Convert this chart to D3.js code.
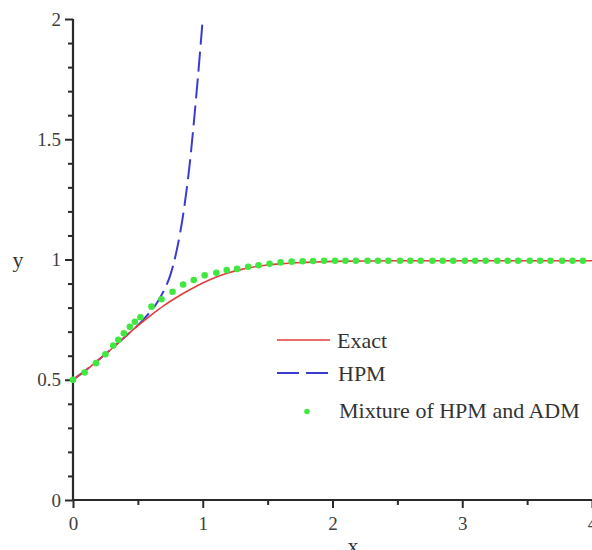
<!DOCTYPE html>
<html>
<head>
<meta charset="utf-8">
<script src="https://cdn.jsdelivr.net/npm/d3@7"></script>
<style>
  body { margin: 0; background: #fff; }
  svg { display: block; }
  .tick text { font-family: "Liberation Serif", "DejaVu Serif", serif; }
</style>
</head>
<body>
<div id="chart"></div>
<script>
// values
const exactX = [0, 0.1, 0.2, 0.3, 0.4, 0.5, 0.6, 0.7, 0.8, 0.9, 1.0, 1.1, 1.2, 1.3, 1.4, 1.5, 1.6, 1.8, 2.0, 2.5, 3.0, 3.5, 4.0];
const exactY = [0.5, 0.54, 0.584, 0.63, 0.678, 0.725, 0.768, 0.808, 0.843, 0.874, 0.902, 0.926, 0.945, 0.959, 0.970, 0.977, 0.982, 0.988, 0.992, 0.995, 0.995, 0.995, 0.995];

const hpmX = [0, 0.1, 0.2, 0.3, 0.4, 0.5, 0.55, 0.6, 0.65, 0.7, 0.75, 0.8, 0.85, 0.9, 0.95, 1.0];
const hpmY = [0.5, 0.54, 0.584, 0.63, 0.678, 0.726, 0.755, 0.785, 0.822, 0.87, 0.935, 1.04, 1.19, 1.40, 1.68, 2.0];

const mixX = [0, 0.09, 0.177, 0.25, 0.31, 0.349, 0.392, 0.438, 0.477, 0.52, 0.605, 0.682, 0.767, 0.849, 0.931,
  1.015, 1.105, 1.185, 1.265, 1.35, 1.43, 1.515, 1.60, 1.685, 1.77, 1.85, 1.935, 2.02, 2.10, 2.18, 2.27, 2.35,
  2.43, 2.52, 2.60, 2.68, 2.77, 2.85, 2.93, 3.02, 3.10, 3.18, 3.27, 3.35, 3.43, 3.52, 3.60, 3.68, 3.77, 3.85, 3.93];
const mixY = [0.5, 0.53, 0.569, 0.606, 0.642, 0.666, 0.693, 0.72, 0.741, 0.76, 0.804, 0.835, 0.866, 0.896, 0.915,
  0.934, 0.945, 0.956, 0.961, 0.970, 0.976, 0.982, 0.988, 0.991, 0.993, 0.994, 0.995, 0.995, 0.995, 0.995, 0.995, 0.995,
  0.995, 0.995, 0.995, 0.995, 0.995, 0.995, 0.995, 0.995, 0.995, 0.995, 0.995, 0.995, 0.995, 0.995, 0.995, 0.995, 0.995, 0.995, 0.995];

const xMajor = [0, 1, 2, 3, 4];
const xMinor = [0.5, 1.5, 2.5, 3.5];
const yMajor = [0, 0.5, 1, 1.5, 2];
const yMinor = [0.1, 0.2, 0.3, 0.4, 0.6, 0.7, 0.8, 0.9, 1.1, 1.2, 1.3, 1.4, 1.6, 1.7, 1.8, 1.9];

const legendLabels = ["Exact", "HPM", "Mixture of HPM and ADM"];

const width = 592, height = 550;
const red = "#e33b3f", blue = "#3b3bd2", green = "#3fe83f";
const serif = '"Liberation Serif", "DejaVu Serif", serif';

const svg = d3.select("#chart").append("svg")
    .attr("width", width)
    .attr("height", height);

const x = d3.scaleLinear().domain([0, 4]).range([73, 592]);
const y = d3.scaleLinear().domain([0, 2]).range([500, 19]);

// axes
function styleAxis(g) {
    g.select(".domain").remove();
    g.selectAll(".tick line").attr("stroke", "#2a2a2a").attr("stroke-width", 2);
    g.selectAll(".tick text").attr("fill", "#404040").attr("font-size", 19);
}

svg.append("g")
    .attr("transform", `translate(${x(0)},0)`)
    .call(d3.axisLeft(y).tickValues(yMinor).tickSize(5).tickFormat(""))
    .call(styleAxis);
svg.append("g")
    .attr("transform", `translate(${x(0)},0)`)
    .call(d3.axisLeft(y).tickValues(yMajor).tickSize(8).tickPadding(4).tickFormat(d => d))
    .call(styleAxis);

svg.append("g")
    .attr("transform", `translate(0,${y(0)})`)
    .call(d3.axisBottom(x).tickValues(xMinor).tickSize(5).tickFormat(""))
    .call(styleAxis);
svg.append("g")
    .attr("transform", `translate(0,${y(0)})`)
    .call(d3.axisBottom(x).tickValues(xMajor).tickSize(8).tickPadding(9).tickFormat(d => d))
    .call(styleAxis);

svg.append("line")
    .attr("x1", x(0)).attr("x2", x(0))
    .attr("y1", y(0) + 1).attr("y2", y(2))
    .attr("stroke", "#2a2a2a").attr("stroke-width", 2.2);
svg.append("line")
    .attr("x1", x(0) - 1).attr("x2", width)
    .attr("y1", y(0)).attr("y2", y(0))
    .attr("stroke", "#2a2a2a").attr("stroke-width", 2.2);

// axis titles
svg.append("text")
    .attr("x", 18).attr("y", 267)
    .attr("text-anchor", "middle")
    .attr("font-family", serif).attr("font-size", 22).attr("fill", "#333")
    .text("y");
svg.append("text")
    .attr("x", 353).attr("y", 553)
    .attr("text-anchor", "middle")
    .attr("font-family", serif).attr("font-size", 22).attr("fill", "#333")
    .text("x");

// curves
const line = d3.line()
    .x(d => x(d[0]))
    .y(d => y(d[1]))
    .curve(d3.curveMonotoneX);

svg.append("path")
    .datum(hpmX.map((v, i) => [v, hpmY[i]]))
    .attr("d", line)
    .attr("fill", "none")
    .attr("stroke", blue)
    .attr("stroke-width", 2)
    .attr("stroke-dasharray", "20,7");

svg.append("path")
    .datum(exactX.map((v, i) => [v, exactY[i]]))
    .attr("d", line)
    .attr("fill", "none")
    .attr("stroke", red)
    .attr("stroke-width", 1.6);

svg.append("g")
    .selectAll("circle")
    .data(mixX.map((v, i) => [v, mixY[i]]))
    .join("circle")
    .attr("cx", d => x(d[0]))
    .attr("cy", d => y(d[1]))
    .attr("r", 3.3)
    .attr("fill", green);

// legend
const legend = svg.append("g");
const rowY = [340, 373, 410];

legend.append("line")
    .attr("x1", 277).attr("x2", 330)
    .attr("y1", rowY[0]).attr("y2", rowY[0])
    .attr("stroke", red).attr("stroke-width", 1.6);
legend.append("line")
    .attr("x1", 277).attr("x2", 330)
    .attr("y1", rowY[1]).attr("y2", rowY[1])
    .attr("stroke", blue).attr("stroke-width", 2)
    .attr("stroke-dasharray", "22,7");
legend.append("circle")
    .attr("cx", 307).attr("cy", rowY[2] + 1.5)
    .attr("r", 2.8)
    .attr("fill", green);

legend.selectAll("text")
    .data(legendLabels)
    .join("text")
    .attr("x", (d, i) => 337 + i)
    .attr("y", (d, i) => rowY[i] + 8)
    .attr("font-family", serif)
    .attr("font-size", 22)
    .attr("fill", "#333")
    .text(d => d);
</script>
</body>
</html>
